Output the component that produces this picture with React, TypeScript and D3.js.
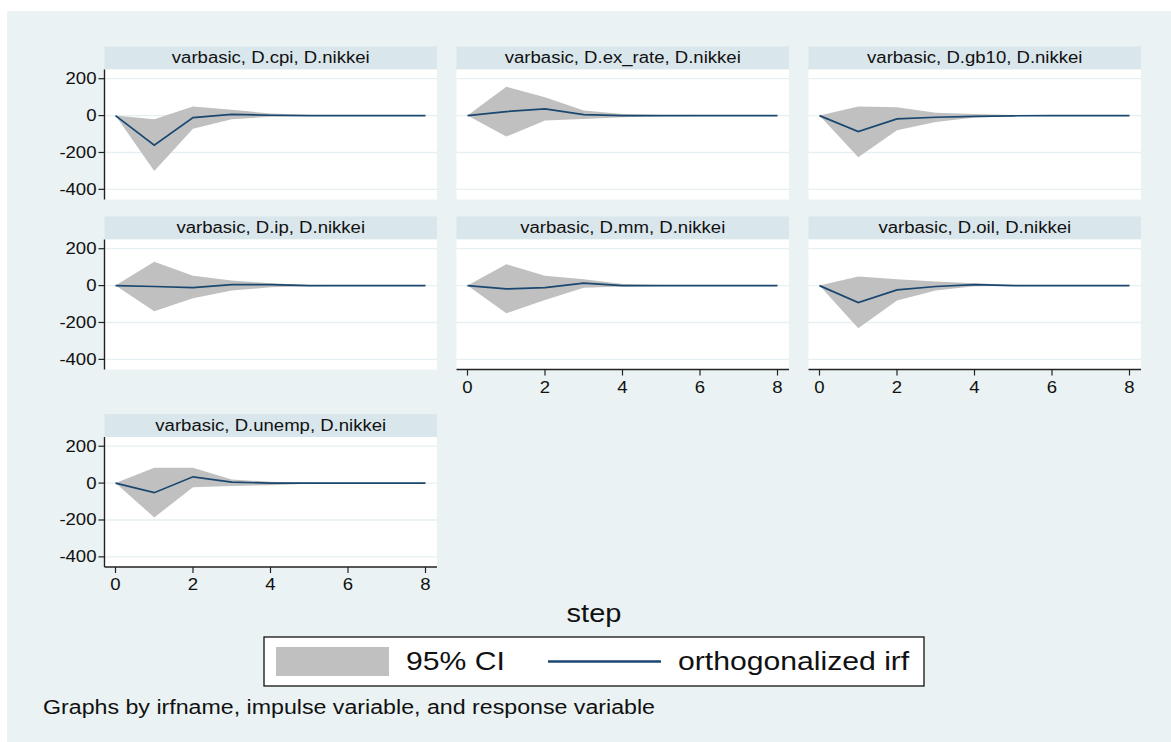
import React from "react";
import * as d3 from "d3";

// Forecast horizon and axis ticks
const steps = [0, 1, 2, 3, 4, 5, 6, 7, 8];
const yTicks = [200, 0, -200, -400];
const xTicks = [0, 2, 4, 6, 8];

// Orthogonalized IRFs of D.nikkei with 95% bands, one set per impulse
const cpiIrf = [0, -161, -11, 7, 2, 0, 0, 0, 0];
const cpiLo = [0, -300, -71, -20, -6, -2, 0, 0, 0];
const cpiHi = [0, -20, 50, 32, 11, 3, 0, 0, 0];

const exRateIrf = [0, 22, 36, 5, 0, 0, 0, 0, 0];
const exRateLo = [0, -114, -26, -18, -9, -4, -2, 0, 0];
const exRateHi = [0, 157, 99, 27, 9, 3, 1, 0, 0];

const gb10Irf = [0, -87, -18, -9, -4, -1, 0, 0, 0];
const gb10Lo = [0, -226, -80, -35, -10, -3, -1, 0, 0];
const gb10Hi = [0, 49, 45, 15, 9, 3, 1, 0, 0];

const ipIrf = [0, -5, -11, 5, 5, 0, 0, 0, 0];
const ipLo = [0, -139, -69, -27, -9, -3, -1, 0, 0];
const ipHi = [0, 129, 53, 27, 13, 3, 1, 0, 0];

const mmIrf = [0, -18, -11, 13, 0, 0, 0, 0, 0];
const mmLo = [0, -150, -78, -11, -5, -2, 0, 0, 0];
const mmHi = [0, 116, 54, 35, 9, 3, 1, 0, 0];

const oilIrf = [0, -92, -23, -5, 5, 0, 0, 0, 0];
const oilLo = [0, -231, -81, -27, -4, -1, 0, 0, 0];
const oilHi = [0, 49, 35, 22, 13, 4, 1, 0, 0];

const unempIrf = [0, -52, 34, 5, 0, 0, 0, 0, 0];
const unempLo = [0, -186, -23, -16, -11, -4, -1, 0, 0];
const unempHi = [0, 83, 83, 20, 7, 2, 1, 0, 0];

const titles = [
  "varbasic, D.cpi, D.nikkei",
  "varbasic, D.ex_rate, D.nikkei",
  "varbasic, D.gb10, D.nikkei",
  "varbasic, D.ip, D.nikkei",
  "varbasic, D.mm, D.nikkei",
  "varbasic, D.oil, D.nikkei",
  "varbasic, D.unemp, D.nikkei",
];

const panels = [
  { irf: cpiIrf, lo: cpiLo, hi: cpiHi },
  { irf: exRateIrf, lo: exRateLo, hi: exRateHi },
  { irf: gb10Irf, lo: gb10Lo, hi: gb10Hi },
  { irf: ipIrf, lo: ipLo, hi: ipHi },
  { irf: mmIrf, lo: mmLo, hi: mmHi },
  { irf: oilIrf, lo: oilLo, hi: oilHi },
  { irf: unempIrf, lo: unempLo, hi: unempHi },
].map((p, i) => ({ ...p, title: titles[i] }));

const W = 1171;
const H = 742;
const FONT = "'Liberation Sans', Arial, Helvetica, sans-serif";
const SX = 1.16;
const BG = "#eaf2f3";
const STRIP = "#d9e6eb";
const GRID = "#e6eff1";
const NAVY = "#1a476f";
const CI = "#c0c0c0";

const plotW = 332.5;
const stripH = 23;
const plotH = 130;
const colLeft = (c: number) => 104.5 + 352 * c;
const rowTops = [46.5, 216.5, 414];

function Txt({ x, y, size, anchor = "start", children }: any) {
  return (
    <text
      transform={`translate(${x},${y}) scale(${SX},1)`}
      fontSize={size}
      fontFamily={FONT}
      textAnchor={anchor}
      fill="#111"
    >
      {children}
    </text>
  );
}

function Panel({ idx, data }: any) {
  const row = Math.floor(idx / 3);
  const col = idx % 3;
  const left = colLeft(col);
  const top = rowTops[row];
  const pTop = top + stripH;
  const pBot = pTop + plotH;
  const showY = col === 0;
  const showX = row === 2 || (row === 1 && col > 0);

  const x = d3.scaleLinear().domain([0, 8]).range([left + 11, left + 321]);
  const y = d3.scaleLinear().domain([-455, 250]).range([pBot, pTop]);

  const area = d3
    .area<number>()
    .x((s) => x(s))
    .y0((s) => y(data.lo[s]))
    .y1((s) => y(data.hi[s]));
  const line = d3
    .line<number>()
    .x((s) => x(s))
    .y((s) => y(data.irf[s]));

  return (
    <g>
      <rect x={left} y={top} width={plotW} height={stripH} fill={STRIP} />
      <Txt x={left + plotW / 2} y={top + 16.5} size={16} anchor="middle">
        {data.title}
      </Txt>
      <rect x={left} y={pTop} width={plotW} height={plotH} fill="#fff" />
      {yTicks.map((t) => (
        <line
          key={t}
          x1={left}
          x2={left + plotW}
          y1={y(t)}
          y2={y(t)}
          stroke={GRID}
          strokeWidth={1.3}
        />
      ))}
      <path d={area(steps) || ""} fill={CI} />
      <path d={line(steps) || ""} fill="none" stroke={NAVY} strokeWidth={1.7} />
      {showY && (
        <g>
          <line x1={left} x2={left} y1={pTop} y2={pBot} stroke="#222" strokeWidth={1.4} />
          {yTicks.map((t) => (
            <g key={t}>
              <line x1={left - 6} x2={left} y1={y(t)} y2={y(t)} stroke="#222" strokeWidth={1.2} />
              <Txt x={left - 8} y={y(t) + 5.5} size={16} anchor="end">
                {String(t)}
              </Txt>
            </g>
          ))}
        </g>
      )}
      {showX && (
        <g>
          <line x1={left} x2={left + plotW} y1={pBot} y2={pBot} stroke="#222" strokeWidth={1.4} />
          {xTicks.map((t) => (
            <g key={t}>
              <line x1={x(t)} x2={x(t)} y1={pBot} y2={pBot + 6} stroke="#222" strokeWidth={1.2} />
              <Txt x={x(t)} y={pBot + 23} size={16} anchor="middle">
                {String(t)}
              </Txt>
            </g>
          ))}
        </g>
      )}
    </g>
  );
}

export default function App() {
  return (
    <svg
      width={W}
      height={H}
      style={{ position: "absolute", left: 0, top: 0, background: "#fff" }}
    >
      <rect x={7} y={11} width={W - 7} height={H - 11} fill={BG} />
      {panels.map((p, i) => (
        <Panel key={i} idx={i} data={p} />
      ))}
      <Txt x={594} y={622} size={25} anchor="middle">
        step
      </Txt>
      <rect x={264} y={637} width={660} height={49} fill="#fff" stroke="#111" strokeWidth={1.3} />
      <rect x={276} y={647} width={113} height={29} fill={CI} />
      <Txt x={406} y={670} size={26}>
        95% CI
      </Txt>
      <line x1={548} x2={661} y1={661.5} y2={661.5} stroke={NAVY} strokeWidth={2.5} />
      <Txt x={678} y={670} size={26}>
        orthogonalized irf
      </Txt>
      <Txt x={43} y={714} size={20}>
        Graphs by irfname, impulse variable, and response variable
      </Txt>
    </svg>
  );
}
